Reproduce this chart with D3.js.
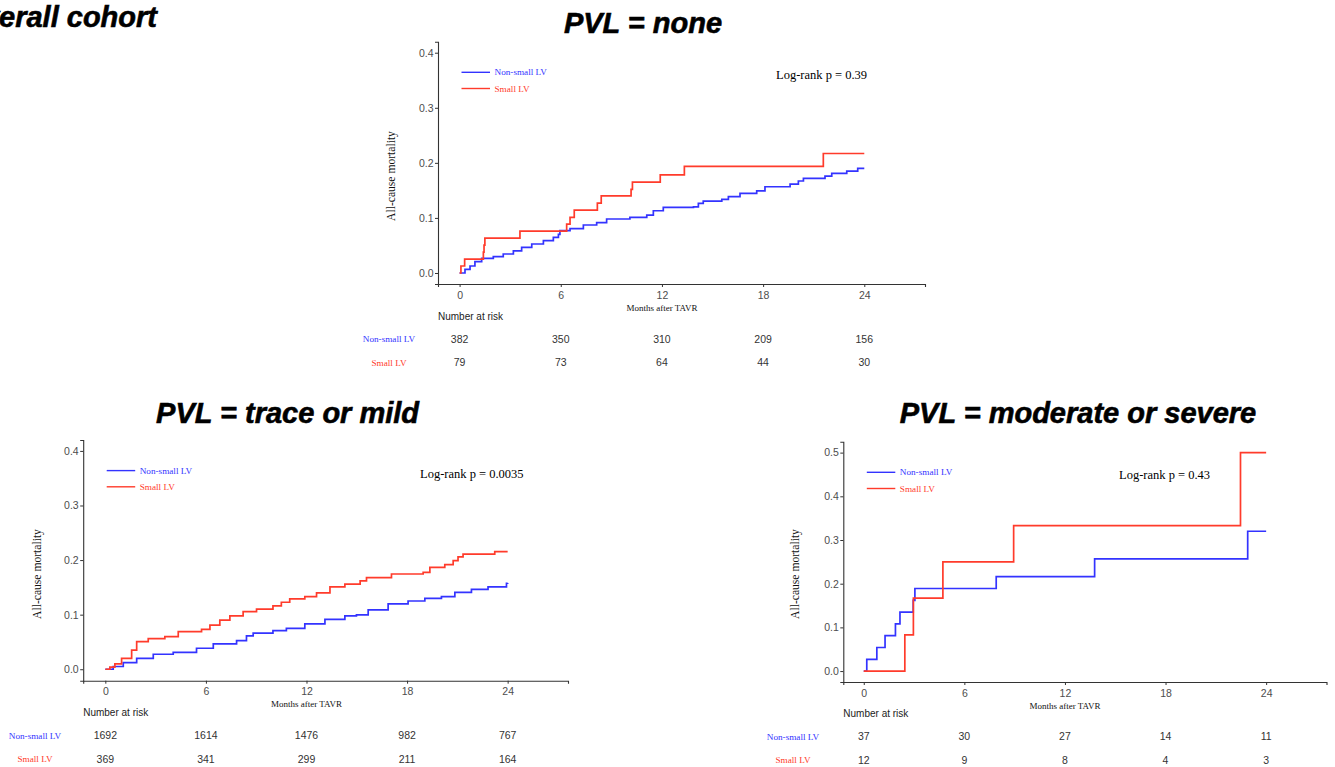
<!DOCTYPE html>
<html>
<head>
<meta charset="utf-8">
<script src="https://cdn.jsdelivr.net/npm/d3@7"></script>
<style>
  body { margin: 0; background: #fff; }
  .tick text { font-family: "Liberation Sans", Arial, sans-serif; font-size: 10.5px; fill: #4d4d4d; }
  .serif { font-family: "Liberation Serif", "Times New Roman", serif; }
  .sans { font-family: "Liberation Sans", Arial, sans-serif; }
  .panel-title { font-family: "Liberation Sans", Arial, sans-serif; font-weight: bold; font-style: italic; font-size: 29px; fill: #000; stroke: #000; stroke-width: 0.6px; }
</style>
</head>
<body>
<svg id="chart" width="1335" height="767"></svg>
<script>
// ---- data ----
const MONTH_TICKS = [0, 6, 12, 18, 24];
const MORT_TICKS_04 = [0, 0.1, 0.2, 0.3, 0.4];
const MORT_TICKS_05 = [0, 0.1, 0.2, 0.3, 0.4, 0.5];
const GROUPS = ['Non-small LV', 'Small LV'];

// PVL = none  [months, cumulative mortality]
const noneNonSmall = [[0,0],[0.32,0.0067],[0.62,0.0127],[0.91,0.0205],[1.31,0.0267],[2.0,0.0296],[2.59,0.0345],
  [3.19,0.040],[3.68,0.0466],[4.28,0.0526],[4.97,0.0586],[5.56,0.0648],[5.86,0.0702],[5.95,0.0768],[6.55,0.0804],
  [7.34,0.0871],[8.13,0.0913],[8.72,0.098],[10.1,0.101],[11.1,0.105],[11.49,0.113],[12.08,0.119],[13.87,0.120],
  [14.16,0.1265],[14.45,0.1306],[15.55,0.1337],[15.94,0.1385],[16.63,0.1446],[17.62,0.149],[18.11,0.1566],
  [19.6,0.1615],[20.09,0.167],[20.39,0.1718],[21.67,0.176],[22.07,0.181],[22.96,0.185],[23.61,0.19],[24,0.19]];
const noneSmall = [[0,0],[0.08,0.0127],[0.3,0.0253],[1.41,0.038],[1.45,0.0506],[1.5,0.0633],[3.58,0.0759],
  [6.35,0.0886],[6.55,0.101],[6.8,0.114],[8.17,0.127],[8.4,0.14],[10.17,0.152],[10.25,0.165],[11.9,0.178],
  [13.33,0.1936],[21.57,0.217],[24,0.217]];
const noneRiskNonSmall = [382, 350, 310, 209, 156];
const noneRiskSmall = [79, 73, 64, 44, 30];

// PVL = trace or mild
const mildNonSmall = [[0,0],[0.47,0.005],[1.07,0.012],[1.87,0.020],[2.86,0.0275],[4.05,0.031],[5.44,0.0385],
  [6.44,0.0463],[7.83,0.0524],[8.42,0.061],[8.82,0.066],[10.0,0.0707],[10.8,0.075],[11.9,0.083],[13.1,0.0915],
  [14.29,0.0976],[14.98,0.0995],[15.68,0.1086],[16.87,0.1196],[18.06,0.125],[19.06,0.130],[20.05,0.133],
  [20.85,0.141],[21.84,0.1465],[22.83,0.151],[23.93,0.1575],[24,0.158]];
const mildSmall = [[0,0],[0.27,0.0037],[0.57,0.0097],[0.97,0.020],[1.57,0.035],[1.87,0.0506],[2.56,0.056],
  [3.55,0.0597],[4.35,0.069],[5.74,0.073],[6.24,0.081],[6.83,0.090],[7.43,0.0976],[8.22,0.1055],[9.02,0.110],
  [10.0,0.116],[10.5,0.1227],[11.0,0.1288],[11.9,0.133],[12.6,0.140],[13.4,0.151],[14.29,0.156],[15.2,0.162],
  [15.58,0.168],[17.07,0.1745],[18.96,0.1776],[19.36,0.1868],[20.25,0.1916],[20.75,0.199],[21.04,0.206],
  [21.34,0.211],[23.23,0.2155],[24,0.2155]];
const mildRiskNonSmall = [1692, 1614, 1476, 982, 767];
const mildRiskSmall = [369, 341, 299, 211, 164];

// PVL = moderate or severe
const modNonSmall = [[0,0],[0.18,0.027],[0.78,0.054],[1.27,0.081],[1.89,0.108],[2.16,0.135],[2.95,0.162],
  [3.05,0.189],[7.9,0.216],[13.77,0.257],[22.9,0.32],[24,0.32]];
const modSmall = [[0,0],[2.45,0.083],[2.96,0.167],[4.72,0.25],[8.94,0.333],[22.47,0.5],[24,0.5]];
const modRiskNonSmall = [37, 30, 27, 14, 11];
const modRiskSmall = [12, 9, 8, 4, 3];

const COLORS = ['#3333ff', '#ff3b2b'];

// ---- layout per panel ----
const PANELS = [
  { title: 'PVL = none', titleX: 643, titleY: 33, pText: 'Log-rank p = 0.39', pX: 776, pY: 79,
    curves: [noneNonSmall, noneSmall], risk: [noneRiskNonSmall, noneRiskSmall], yTicks: MORT_TICKS_04,
    xDom: [-1.28, 27.6], xRange: [438, 925], yDom: [-0.02, 0.42], yRange: [284, 41.7],
    yTitleX: 391, yTitleY: 176, riskHeadY: 316, riskY: [339, 362.7], riskLabelX: 389 },
  { title: 'PVL = trace or mild', titleX: 287.6, titleY: 423, pText: 'Log-rank p = 0.0035', pX: 420, pY: 477.5,
    curves: [mildNonSmall, mildSmall], risk: [mildRiskNonSmall, mildRiskSmall], yTicks: MORT_TICKS_04,
    xDom: [-1.32, 27.6], xRange: [83.2, 568], yDom: [-0.021, 0.42], yRange: [680.7, 440],
    yTitleX: 37, yTitleY: 574, riskHeadY: 712.3, riskY: [735.7, 759], riskLabelX: 35 },
  { title: 'PVL = moderate or severe', titleX: 1078, titleY: 423, pText: 'Log-rank p = 0.43', pX: 1119, pY: 479,
    curves: [modNonSmall, modSmall], risk: [modRiskNonSmall, modRiskSmall], yTicks: MORT_TICKS_05,
    xDom: [-1.22, 27.6], xRange: [843.3, 1326.5], yDom: [-0.025, 0.525], yRange: [682, 441.7],
    yTitleX: 795, yTitleY: 574, riskHeadY: 713, riskY: [736.7, 760], riskLabelX: 793 }
];

const svg = d3.select('#chart');

// heading at top left, cut by the left edge as in the reference
svg.append('text').attr('class', 'panel-title')
  .attr('x', 157).attr('y', 27).attr('text-anchor', 'end')
  .text('Overall cohort');

PANELS.forEach(drawPanel);

function drawPanel(p) {
  const x = d3.scaleLinear().domain(p.xDom).range(p.xRange);
  const y = d3.scaleLinear().domain(p.yDom).range(p.yRange);
  const g = svg.append('g');

  g.append('text').attr('class', 'panel-title')
    .attr('x', p.titleX).attr('y', p.titleY).attr('text-anchor', 'middle')
    .text(p.title);

  // Axes
  g.append('g')
    .attr('transform', `translate(${p.xRange[0]},0)`)
    .call(d3.axisLeft(y).tickValues(p.yTicks).tickSize(3).tickPadding(1.5).tickFormat(d3.format('.1f')))
    .call(ax => ax.select('.domain').attr('stroke', '#333').attr('stroke-width', 1.1))
    .call(ax => ax.selectAll('.tick line').attr('stroke', '#333'));

  g.append('g')
    .attr('transform', `translate(0,${p.yRange[0]})`)
    .call(d3.axisBottom(x).tickValues(MONTH_TICKS).tickSize(3).tickPadding(4.3))
    .call(ax => ax.select('.domain').attr('stroke', '#333').attr('stroke-width', 1.1))
    .call(ax => ax.selectAll('.tick line').attr('stroke', '#333'));

  // Axis titles
  g.append('text').attr('class', 'serif')
    .attr('transform', `translate(${p.yTitleX},${p.yTitleY}) rotate(-90)`)
    .attr('text-anchor', 'middle').attr('dy', '0.35em')
    .style('font-size', '11.6px').attr('fill', '#111')
    .text('All-cause mortality');

  g.append('text').attr('class', 'serif')
    .attr('x', x(12)).attr('y', p.yRange[0] + 26.5)
    .attr('text-anchor', 'middle')
    .style('font-size', '9px').attr('fill', '#111')
    .text('Months after TAVR');

  // KM curves
  const line = d3.line().curve(d3.curveStepAfter).x(d => x(d[0])).y(d => y(d[1]));
  p.curves.forEach((c, i) => {
    g.append('path').datum(c)
      .attr('d', line)
      .attr('fill', 'none')
      .attr('stroke', COLORS[i])
      .attr('stroke-width', 1.7)
      .attr('stroke-linejoin', 'miter');
  });

  // Legend
  const lx = p.xRange[0] + 23.5;
  const ly = p.yRange[1] + 30.6;
  GROUPS.forEach((name, i) => {
    g.append('line')
      .attr('x1', lx).attr('x2', lx + 28.5)
      .attr('y1', ly + i * 16.2).attr('y2', ly + i * 16.2)
      .attr('stroke', COLORS[i]).attr('stroke-width', 1.4);
    g.append('text').attr('class', 'serif')
      .attr('x', lx + 33).attr('y', ly + i * 16.2).attr('dy', '0.33em')
      .style('font-size', '9.2px').attr('fill', COLORS[i])
      .text(name);
  });

  // Log-rank p
  g.append('text').attr('class', 'serif')
    .attr('x', p.pX).attr('y', p.pY)
    .style('font-size', '12.5px').attr('fill', '#000')
    .text(p.pText);

  // Number at risk table
  g.append('text').attr('class', 'sans')
    .attr('x', p.xRange[0]).attr('y', p.riskHeadY).attr('dy', '0.35em')
    .style('font-size', '10px').attr('fill', '#222')
    .text('Number at risk');

  p.risk.forEach((row, i) => {
    g.append('text').attr('class', 'serif')
      .attr('x', p.riskLabelX).attr('y', p.riskY[i]).attr('dy', '0.35em')
      .attr('text-anchor', 'middle')
      .style('font-size', '9.2px').attr('fill', COLORS[i])
      .text(GROUPS[i]);
    g.selectAll(null)
      .data(row)
      .join('text')
        .attr('class', 'sans')
        .attr('x', (d, j) => x(MONTH_TICKS[j]))
        .attr('y', p.riskY[i]).attr('dy', '0.35em')
        .attr('text-anchor', 'middle')
        .style('font-size', '10.5px').attr('fill', '#333')
        .text(d => d);
  });
}
</script>
</body>
</html>
